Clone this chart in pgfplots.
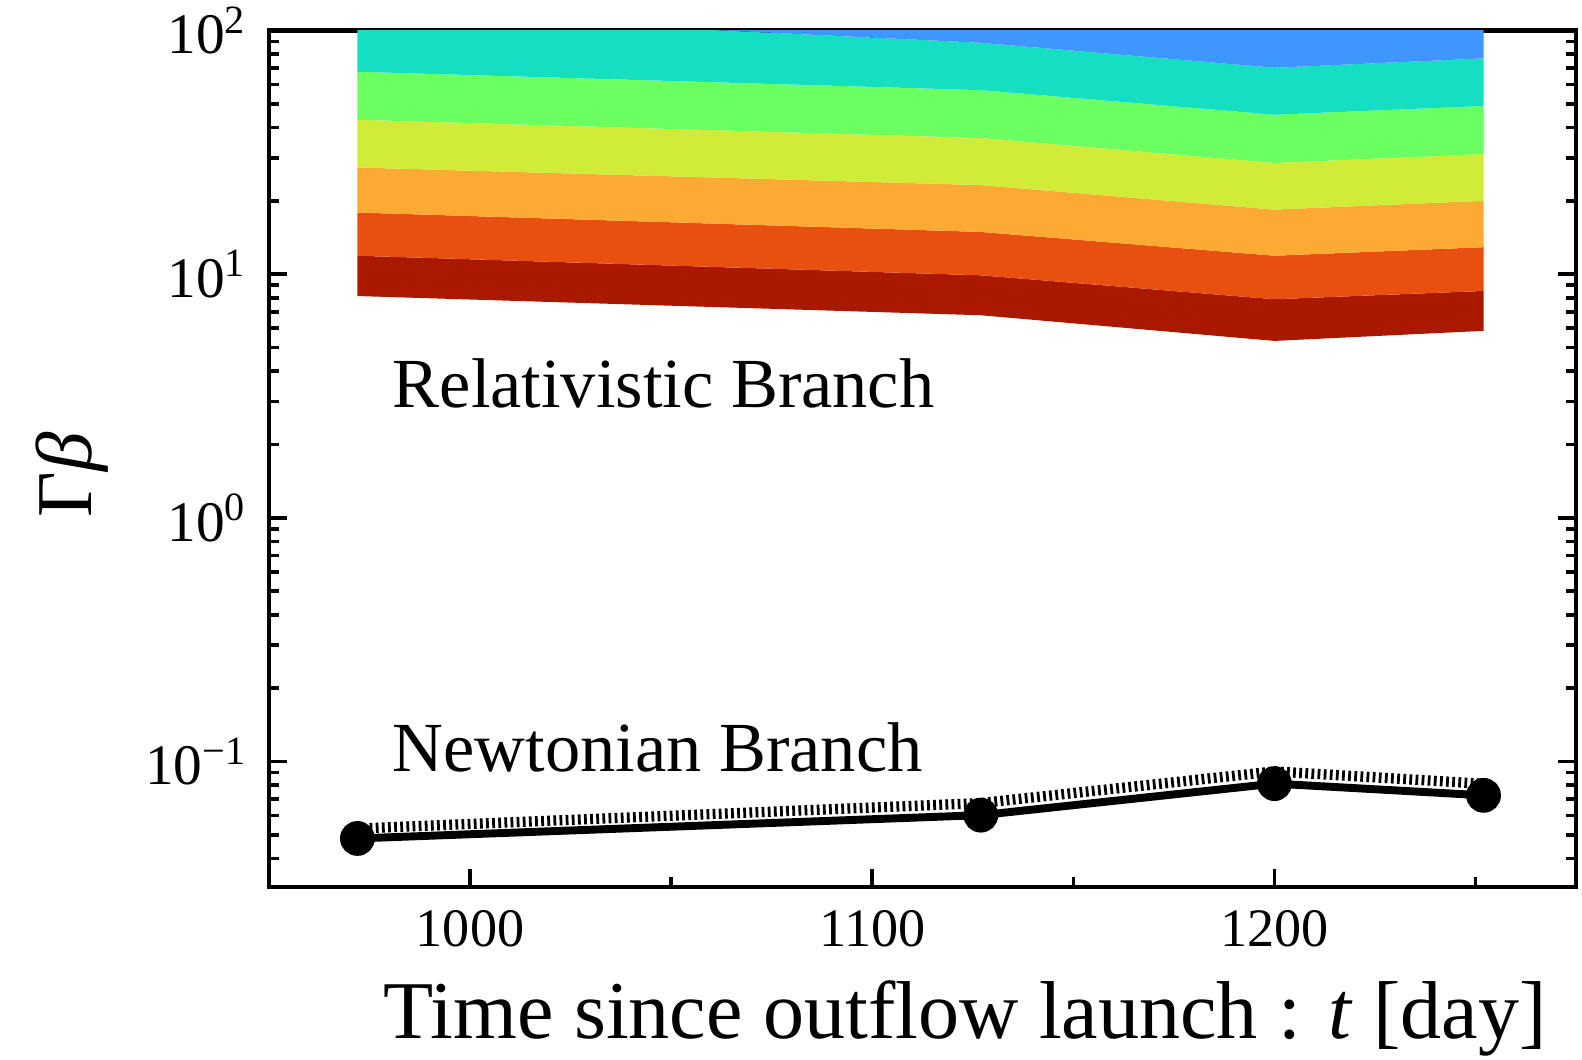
\documentclass[border=0pt]{standalone}
\usepackage{pgfplots}
\pgfplotsset{compat=1.18}
\usepackage{fontspec}
\setmainfont{Liberation Serif}
\definecolor{cblue}{RGB}{64,150,255}
\definecolor{ccyan}{RGB}{22,222,194}
\definecolor{cgreen}{RGB}{108,255,98}
\definecolor{cyellow}{RGB}{208,236,56}
\definecolor{corange}{RGB}{252,170,52}
\definecolor{cored}{RGB}{232,80,16}
\definecolor{cdred}{RGB}{170,24,0}
\begin{document}
\begin{tikzpicture}
\begin{axis}[
  scale only axis, width=330.5pt, height=216.6pt,
  xmin=950, xmax=1275, ymode=log, ymin=0.0305, ymax=100,
  xtick={1000,1100,1200}, xticklabels={1000,1100,1200},
  minor xtick={1050,1150,1250},
  ytick={0.1,1,10,100},
  yticklabels={10\textsuperscript{−1},10\textsuperscript{0},10\textsuperscript{1},10\textsuperscript{2}},
  minor ytick={0.04,0.05,0.06,0.07,0.08,0.09,0.2,0.3,0.4,0.5,0.6,0.7,0.8,0.9,2,3,4,5,6,7,8,9,20,30,40,50,60,70,80,90},
  tick align=inside,
  major tick length=4.5pt, minor tick length=2.5pt,
  every tick/.style={black, line width=0.9pt},
  axis line style={line width=1.1pt},
  xticklabel style={font=\fontsize{13.7}{16}\selectfont, yshift=-2.4pt},
  yticklabel style={font=\fontsize{14.5}{17}\selectfont, xshift=-2pt},
  clip mode=individual,
]
% bands
\addplot[fill=cdred, draw=none] coordinates {(972,8.13) (1127,6.78) (1200,5.32) (1252,5.85) (1252,8.53) (1200,7.89) (1127,9.89) (972,11.9)} -- cycle;
\addplot[fill=cored, draw=none] coordinates {(972,11.9) (1127,9.89) (1200,7.89) (1252,8.53) (1252,12.9) (1200,11.9) (1127,14.9) (972,17.9)} -- cycle;
\addplot[fill=corange, draw=none] coordinates {(972,17.9) (1127,14.9) (1200,11.9) (1252,12.9) (1252,20.0) (1200,18.4) (1127,23.2) (972,27.4)} -- cycle;
\addplot[fill=cyellow, draw=none] coordinates {(972,27.4) (1127,23.2) (1200,18.4) (1252,20.0) (1252,31.1) (1200,28.6) (1127,36.2) (972,43.0)} -- cycle;
\addplot[fill=cgreen, draw=none] coordinates {(972,43.0) (1127,36.2) (1200,28.6) (1252,31.1) (1252,49.0) (1200,45.1) (1127,56.9) (972,67.7)} -- cycle;
\addplot[fill=ccyan, draw=none] coordinates {(972,67.7) (1127,56.9) (1200,45.1) (1252,49.0) (1252,76.8) (1200,70.3) (1127,89.0) (972,118)} -- cycle;
\addplot[fill=cblue, draw=none] coordinates {(972,118) (1127,89.0) (1200,70.3) (1252,76.8) (1252,200) (1200,200) (1127,200) (972,200)} -- cycle;
% Newtonian branch
\addplot[black, line width=2.6pt, dash pattern=on 0.7pt off 0.85pt] coordinates {(972,0.0530) (1127,0.0675) (1200,0.0910) (1252,0.0810)};
\addplot[black, line width=2pt, mark=*, mark size=3.4pt, mark options={solid}] coordinates {(972,0.0483) (1127,0.0602) (1200,0.0811) (1252,0.0726)};
\node[anchor=base west, inner sep=0pt, font=\fontsize{17.8}{20}\selectfont] at (axis cs:980.6,2.84) {Relativistic Branch};
\node[anchor=base west, inner sep=0pt, font=\fontsize{17.8}{20}\selectfont] at (axis cs:980.6,0.0912) {Newtonian Branch};
\node[anchor=base, inner sep=0pt, font=\fontsize{20.75}{24}\selectfont, yshift=-38.4pt] at (axis description cs:0.5325,0) {Time since outflow launch : \textit{t} [day]};
\node[rotate=90, anchor=center, inner sep=0pt, font=\fontsize{20}{24}\selectfont] at (axis description cs:-0.1503,0.4815) {Γ\textit{β}};
\coordinate (bl) at (rel axis cs:0,0);
\coordinate (tr) at (rel axis cs:1,1);
\end{axis}
\pgfresetboundingbox
\path[use as bounding box] ([xshift=-68pt,yshift=-43.5pt]bl) rectangle ([xshift=1.5pt,yshift=7.7pt]tr);
\end{tikzpicture}
\end{document}
